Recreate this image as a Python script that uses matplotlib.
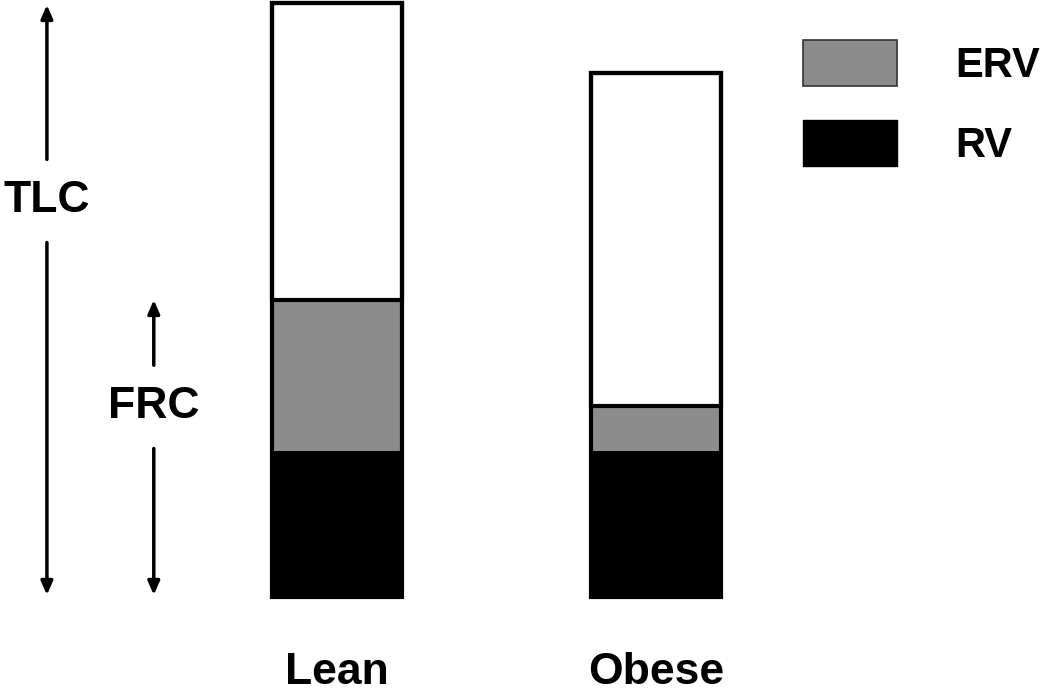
import matplotlib
matplotlib.use("Agg")
import matplotlib.pyplot as plt
from matplotlib.patches import Patch

# lung volumes (litres)
groups = ["Lean", "Obese"]
rv = [1.47, 1.47]
erv = [1.53, 0.46]
tlc = [6.0, 5.29]

GRAY = "#8c8c8c"
plt.rcParams["font.family"] = ["Liberation Sans", "DejaVu Sans"]

fig = plt.figure(figsize=(10.5, 6.91), dpi=100)
ax = fig.add_axes([0, 0, 1, 1])
ax.set_xlim(-1.056, 2.235)
ax.set_ylim(-0.95, 6.03)
ax.set_axis_off()

x = list(range(len(groups)))
w = 0.41
frc = [r + e for r, e in zip(rv, erv)]
rest = [t - f for t, f in zip(tlc, frc)]

ax.bar(x, rv, w, color="black", edgecolor="black", lw=0)
ax.bar(x, erv, w, bottom=rv, color=GRAY, lw=0)
ax.bar(x, rest, w, bottom=frc, color="white", edgecolor="black", lw=3)
ax.bar(x, tlc, w, fill=False, edgecolor="black", lw=3)

for xi, g in zip(x, groups):
    ax.text(xi, -0.88, g, ha="center", va="baseline", fontsize=32, fontweight="bold")

# bracket arrows for TLC and FRC
def span_arrow(xp, y0, y1, ymid, label, gap):
    kw = dict(arrowstyle="-|>,head_length=0.8,head_width=0.35", lw=2.5, color="black",
              shrinkA=0, shrinkB=0)
    ax.annotate("", xy=(xp, y1), xytext=(xp, ymid + gap), arrowprops=kw)
    ax.annotate("", xy=(xp, y0), xytext=(xp, ymid - gap), arrowprops=kw)
    ax.text(xp, ymid, label, ha="center", va="center", fontsize=32, fontweight="bold")

span_arrow(-0.909, 0.02, tlc[0] - 0.02, 4.0, "TLC", 0.42)
span_arrow(-0.574, 0.02, frc[0], 1.92, "FRC", 0.42)

handles = [Patch(facecolor=GRAY, edgecolor="#333333", lw=1.2),
           Patch(facecolor="black", edgecolor="black")]
ax.legend(handles, ["ERV", "RV"], loc="upper left", bbox_to_anchor=(0.765, 0.942),
          frameon=False, prop=dict(size=30, weight="bold"), handlelength=2.25,
          handleheight=1.33, labelspacing=0.8, handletextpad=1.4,
          borderpad=0, borderaxespad=0)

fig.savefig("out.png", dpi=100)
